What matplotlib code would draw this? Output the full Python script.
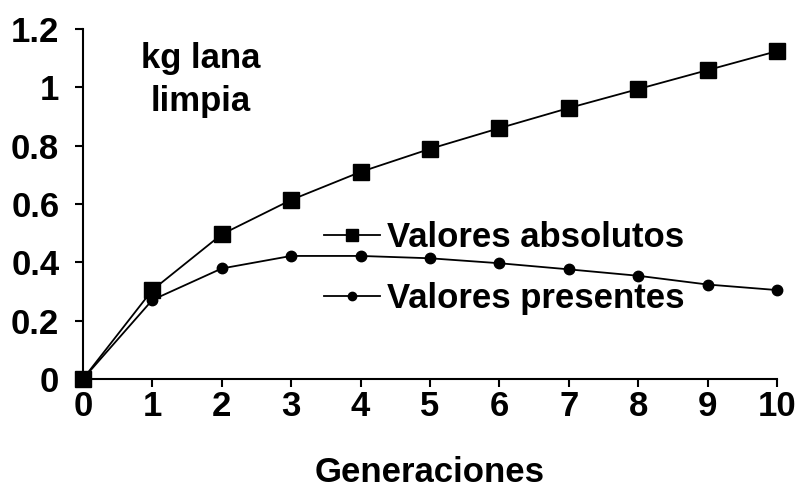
import matplotlib
matplotlib.use("Agg")
import matplotlib.pyplot as plt
from matplotlib.ticker import FuncFormatter

generaciones = [0, 1, 2, 3, 4, 5, 6, 7, 8, 9, 10]
valores_absolutos = [0, 0.305, 0.496, 0.614, 0.710, 0.789, 0.860, 0.929, 0.994, 1.059, 1.124]
valores_presentes = [0, 0.271, 0.379, 0.422, 0.422, 0.414, 0.397, 0.376, 0.354, 0.324, 0.305]
y_ticks = [0, 0.2, 0.4, 0.6, 0.8, 1.0, 1.2]

plt.rcParams['font.family'] = ['Liberation Sans', 'DejaVu Sans']
plt.rcParams['font.weight'] = 'bold'

FS = 25

fig = plt.figure(figsize=(7.97, 4.91), dpi=100)
ax = fig.add_axes([0.104, 0.228, 0.871, 0.713])

ax.plot(generaciones, valores_presentes, color='black', lw=1.3, marker='o', ms=7.5,
        label='Valores presentes', zorder=3, clip_on=False)
ax.plot(generaciones, valores_absolutos, color='black', lw=1.3, marker='s', ms=11.5,
        label='Valores absolutos', zorder=4, clip_on=False)

ax.set_xlim(0, 10)
ax.set_ylim(0, 1.2)
ax.set_xticks(generaciones)
ax.set_yticks(y_ticks)
ax.yaxis.set_major_formatter(FuncFormatter(lambda v, p: f"{v:g}"))
for s in ['top', 'right']:
    ax.spines[s].set_visible(False)
for s in ['left', 'bottom']:
    ax.spines[s].set_linewidth(1.5)
ax.tick_params(axis='both', direction='out', length=6, width=1.5, labelsize=FS)
ax.tick_params(axis='x', pad=2)
ax.tick_params(axis='y', pad=11)
ax.set_xlabel('Generaciones', fontsize=FS, fontweight='bold', labelpad=24)

ax.text(0.169, 0.854, 'kg lana\nlimpia', transform=ax.transAxes, ha='center', va='center',
        fontsize=FS, fontweight='bold', linespacing=1.4)

handles, labels = ax.get_legend_handles_labels()
leg = ax.legend(handles[::-1], labels[::-1], loc='center left', bbox_to_anchor=(0.328, 0.316),
                frameon=False, fontsize=FS, handlelength=1.6, handletextpad=0.2,
                labelspacing=0.81, borderaxespad=0, markerscale=0.8)
for t in leg.get_texts():
    t.set_fontweight('bold')

fig.savefig('out.png', dpi=100)
